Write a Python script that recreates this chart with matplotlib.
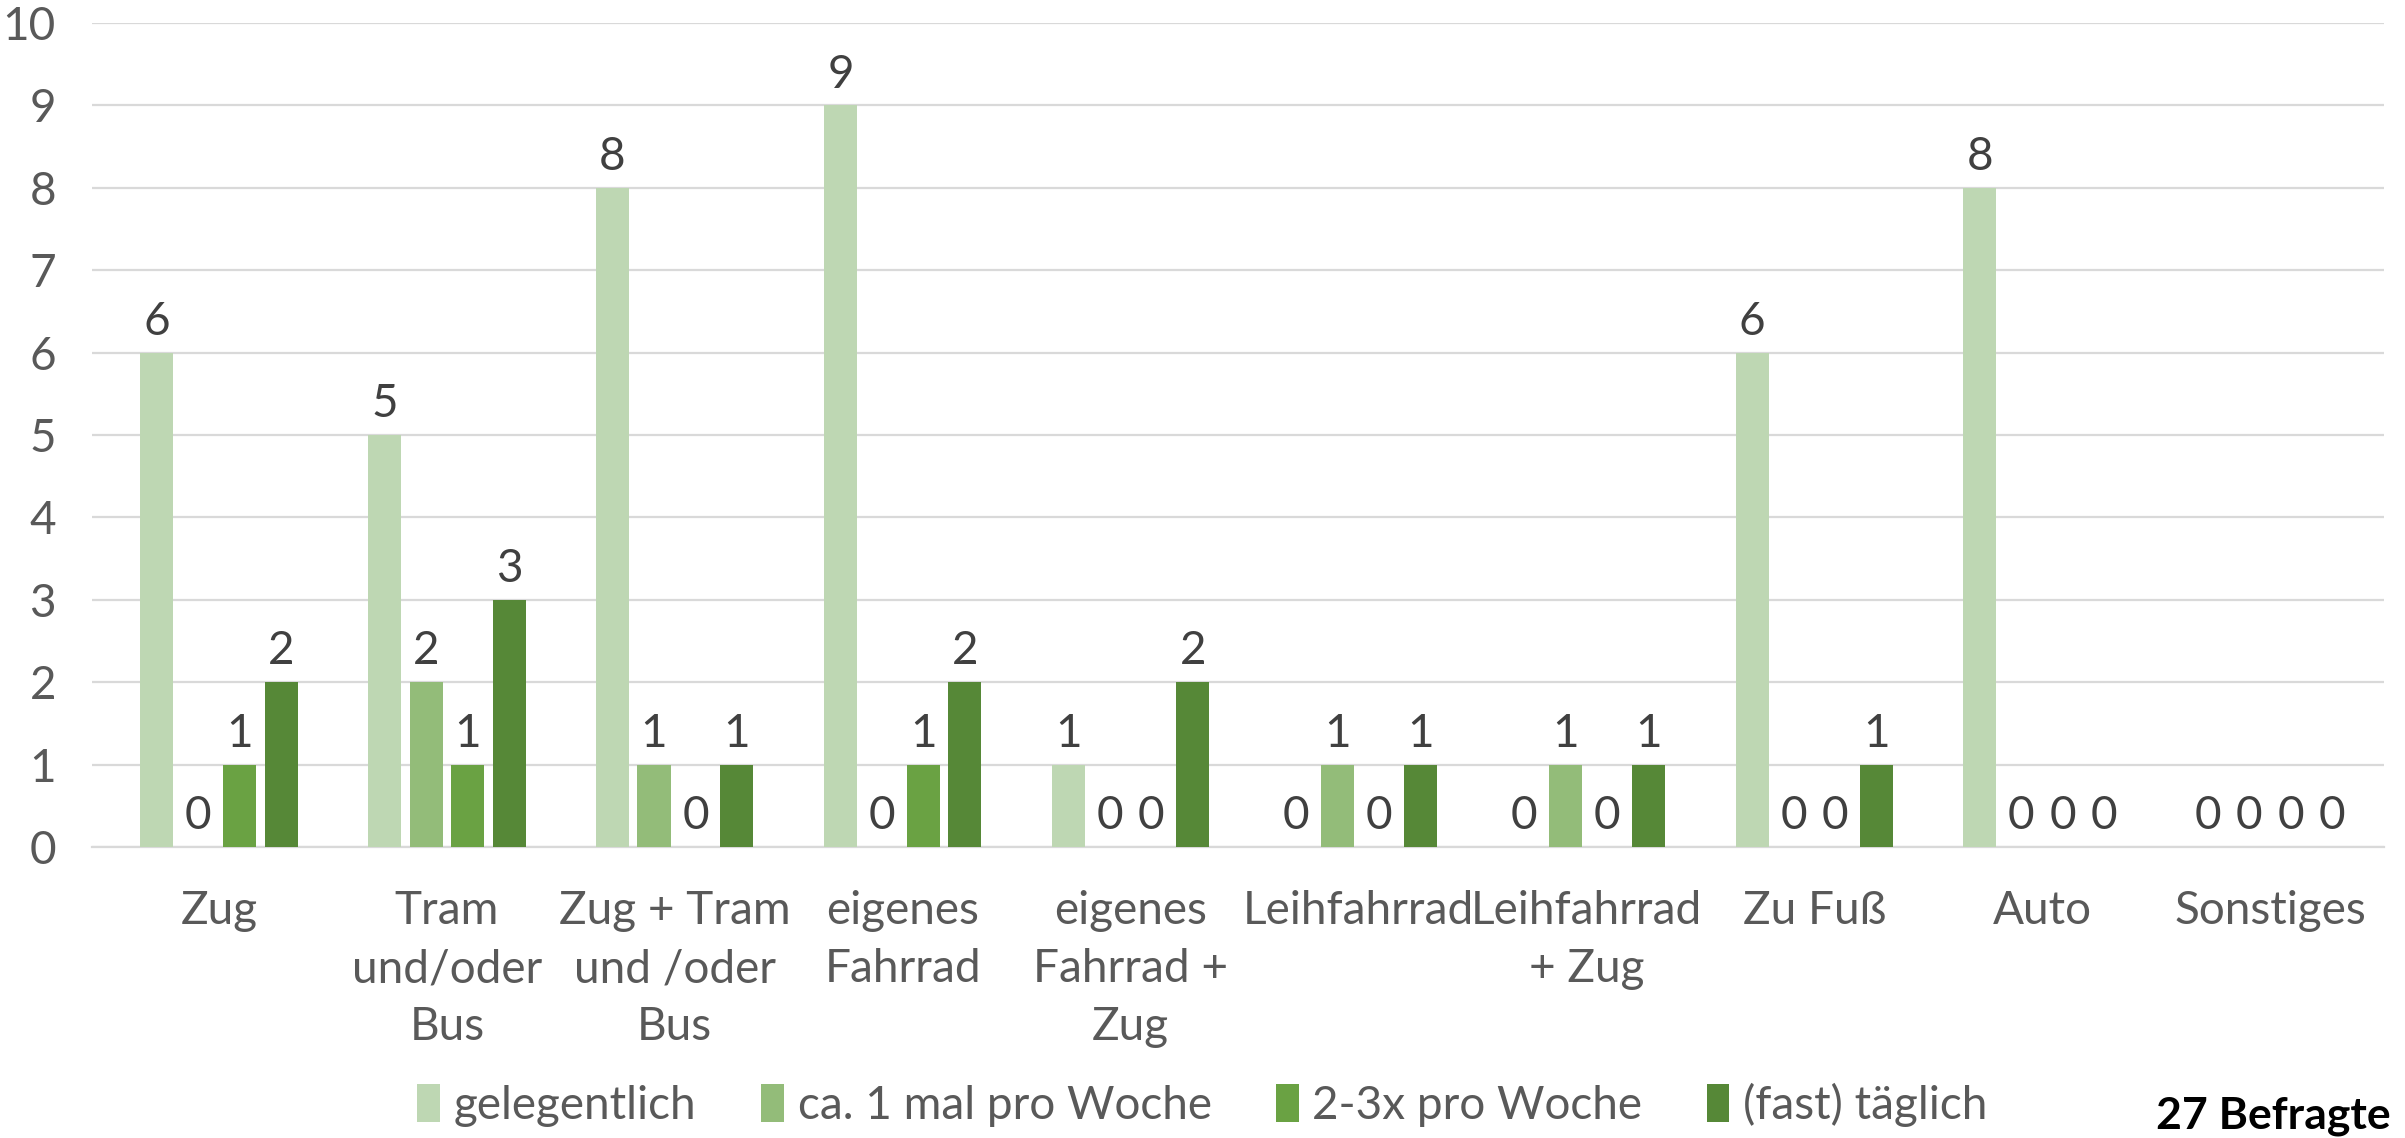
import matplotlib.pyplot as plt
import numpy as np

plt.rcParams['font.family'] = ['Lato', 'DejaVu Sans']

kategorien = ['Zug', 'Tram\nund/oder\nBus', 'Zug + Tram\nund /oder\nBus', 'eigenes\nFahrrad',
              'eigenes\nFahrrad +\nZug', 'Leihfahrrad', 'Leihfahrrad\n+ Zug', 'Zu Fuß', 'Auto', 'Sonstiges']
serien = ['gelegentlich', 'ca. 1 mal pro Woche', '2-3x pro Woche', '(fast) täglich']
gelegentlich = [6, 5, 8, 9, 1, 0, 0, 6, 8, 0]
einmal_woche = [0, 2, 1, 0, 0, 1, 1, 0, 0, 0]
zwei_drei_woche = [1, 1, 0, 1, 0, 0, 0, 0, 0, 0]
taeglich = [2, 3, 1, 2, 2, 1, 1, 1, 0, 0]
farben = ['#BED7B3', '#93BC79', '#6AA243', '#568837']

werte = [gelegentlich, einmal_woche, zwei_drei_woche, taeglich]
fs = 33

fig = plt.figure(figsize=(24.05, 11.38), dpi=100)
ax = fig.add_axes([92 / 2405, 291 / 1138, 2292 / 2405, 824 / 1138])

x = np.arange(len(kategorien))
breite = 0.145
schritt = 0.182

for i, (name, vals) in enumerate(zip(serien, werte)):
    pos = x + (i - 1.5) * schritt
    bars = ax.bar(pos, vals, width=breite, color=farben[i], label=name, zorder=3)
    for b, v in zip(bars, vals):
        ax.annotate(str(v), (b.get_x() + b.get_width() / 2, v), xytext=(0, 7),
                    textcoords='offset points', ha='center', va='bottom',
                    fontsize=fs, color='#404040')

ax.set_xlim(-0.557, 9.5)
ax.set_ylim(0, 10)
ax.set_yticks(range(0, 11))
ax.yaxis.grid(True, color='#D9D9D9', linewidth=1.6, zorder=0)
ax.set_axisbelow(True)
for s in ['top', 'right', 'left']:
    ax.spines[s].set_visible(False)
ax.spines['bottom'].set_color('#D9D9D9')
ax.spines['bottom'].set_linewidth(1.6)

ax.set_xticks(x)
ax.set_xticklabels(kategorien, fontsize=fs, color='#595959', linespacing=1.47)
ax.tick_params(axis='x', length=0, pad=31)
ax.tick_params(axis='y', length=0, pad=26, labelsize=fs, labelcolor='#595959')

fig.legend(loc='center', bbox_to_anchor=(0.5, 1 - 1105 / 1138), ncol=4, frameon=False,
           fontsize=fs, labelcolor='#595959', handlelength=0.5, handleheight=0.9,
           handletextpad=0.3, columnspacing=1.4)

fig.text(2156 / 2405, 1 - 1128 / 1138, '27 Befragte', fontsize=32, fontweight='bold',
         color='black', va='baseline', ha='left')

fig.savefig('out.png', dpi=100)
